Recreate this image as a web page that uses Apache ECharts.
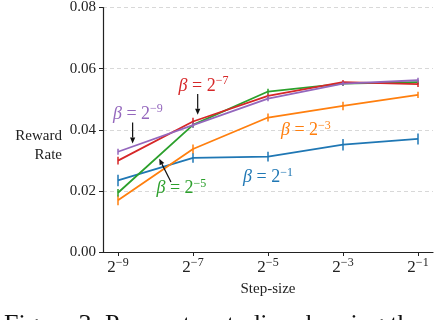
<!DOCTYPE html>
<html><head><meta charset="utf-8">
<script src="https://cdn.jsdelivr.net/npm/echarts@6/dist/echarts.min.js"></script>
<style>html,body{margin:0;padding:0;background:#fff}#c{width:438px;height:320px}</style>
</head><body><div id="c"></div>
<script>
// x positions are log2(step-size)
var stepExp = [-9, -7, -5, -3, -1];
var xTickLabels = ['−9', '−7', '−5', '−3', '−1'];
var yTicks = [0, 0.02, 0.04, 0.06, 0.08];
var seriesNames = ['β = 2^-1', 'β = 2^-3', 'β = 2^-5', 'β = 2^-7', 'β = 2^-9'];
var betaExp = ['−1', '−3', '−5', '−7', '−9'];
var blueVals   = [0.0234, 0.0308, 0.0312, 0.0351, 0.0370];
var orangeVals = [0.0169, 0.0337, 0.0440, 0.0478, 0.0514];
var greenVals  = [0.0194, 0.0416, 0.0525, 0.0551, 0.0556];
var redVals    = [0.0299, 0.0427, 0.0511, 0.0556, 0.0549];
var purpleVals = [0.0328, 0.0415, 0.0502, 0.0551, 0.0562];
var blueErr   = [0.0019, 0.0016, 0.0016, 0.0019, 0.0018];
var orangeErr = [0.0016, 0.0015, 0.0013, 0.0014, 0.0010];
var greenErr  = [0.0012, 0.0009, 0.0009, 0.0008, 0.0008];
var redErr    = [0.0013, 0.0012, 0.0007, 0.0007, 0.0009];
var purpleErr = [0.0010, 0.0009, 0.0009, 0.0007, 0.0008];
// annotation label anchors (data coords: [log2 step, reward]) and arrows
var labelPos = [[-5.0, 0.0244], [-3.99, 0.0397], [-7.31, 0.0208], [-6.72, 0.0543], [-8.47, 0.0452]];
var arrows = [null, null, [[-7.587, 0.0229], [-7.90, 0.0305]], [[-6.875, 0.0517], [-6.875, 0.0449]], [[-8.61, 0.0424], [-8.61, 0.0355]]];

var colors = ['#1f77b4', '#ff7f0e', '#2ca02c', '#d62728', '#9467bd'];
var allVals = [blueVals, orangeVals, greenVals, redVals, purpleVals];
var allErr = [blueErr, orangeErr, greenErr, redErr, purpleErr];
var FONT = 'Liberation Serif';

var chart = echarts.init(document.getElementById('c'));
var series = [];
allVals.forEach(function (vals, i) {
  series.push({
    type: 'line', name: seriesNames[i], data: stepExp.map(function (x, k) { return [x, vals[k]]; }),
    symbol: 'none', lineStyle: { color: colors[i], width: 1.8 }, color: colors[i], z: 2 + i, animation: false
  });
  series.push({
    type: 'custom', name: seriesNames[i] + ' err', z: 2 + i, animation: false,
    data: stepExp.map(function (x, k) { return [x, vals[k] - allErr[i][k], vals[k] + allErr[i][k]]; }),
    renderItem: function (params, api) {
      var a = api.coord([api.value(0), api.value(1)]);
      var b = api.coord([api.value(0), api.value(2)]);
      return { type: 'line', shape: { x1: a[0], y1: a[1], x2: b[0], y2: b[1] }, style: { stroke: colors[i], lineWidth: 1.5 } };
    }
  });
});

chart.setOption({
  animation: false,
  grid: { left: 103, right: 5, top: 6, bottom: 68 },
  xAxis: {
    type: 'value', min: -9.4, max: -0.6,
    axisLine: { lineStyle: { color: '#222', width: 1.2 } },
    axisTick: { customValues: stepExp, length: 4, lineStyle: { color: '#222' } },
    splitLine: { show: false },
    axisLabel: {
      customValues: stepExp, margin: 5,
      formatter: function (v) { return '{b|2}{s|' + xTickLabels[stepExp.indexOf(v)] + '}'; },
      rich: {
        b: { fontFamily: FONT, fontSize: 17, color: '#222' },
        s: { fontFamily: FONT, fontSize: 12, color: '#222', padding: [0, 0, 10, 0] }
      }
    },
    name: 'Step-size', nameLocation: 'middle', nameGap: 29,
    nameTextStyle: { fontFamily: FONT, fontSize: 15, color: '#222' }
  },
  yAxis: {
    type: 'value', min: 0, max: 0.08, interval: 0.02,
    axisLine: { show: true, lineStyle: { color: '#222', width: 1.2 } },
    axisTick: { show: true, length: 4, lineStyle: { color: '#222' } },
    splitLine: { show: true, lineStyle: { color: '#d8d8d8', type: [4, 3], width: 1 } },
    axisLabel: { margin: 7, fontFamily: FONT, fontSize: 15, color: '#222', formatter: function (v) { return v.toFixed(2); } }
  },
  series: series
});

var graphics = [];
labelPos.forEach(function (p, i) {
  var c = chart.convertToPixel({ gridIndex: 0 }, p);
  graphics.push({
    type: 'text', x: c[0], y: c[1], z: 20,
    style: {
      text: '{i|β}{t| = 2}{s|' + betaExp[i] + '}', align: 'center', verticalAlign: 'middle',
      rich: {
        i: { fontFamily: FONT, fontStyle: 'italic', fontSize: 18, fill: colors[i] },
        t: { fontFamily: FONT, fontSize: 18, fill: colors[i] },
        s: { fontFamily: FONT, fontSize: 12, fill: colors[i], padding: [0, 0, 10, 0] }
      }
    }
  });
  if (arrows[i]) {
    var s = chart.convertToPixel({ gridIndex: 0 }, arrows[i][0]);
    var e = chart.convertToPixel({ gridIndex: 0 }, arrows[i][1]);
    var dx = e[0] - s[0], dy = e[1] - s[1], L = Math.sqrt(dx * dx + dy * dy);
    var ux = dx / L, uy = dy / L, hl = 6, hw = 2.6;
    var bx = e[0] - ux * hl, by = e[1] - uy * hl;
    graphics.push({ type: 'line', z: 20, shape: { x1: s[0], y1: s[1], x2: bx, y2: by }, style: { stroke: '#111', lineWidth: 1.2 } });
    graphics.push({ type: 'polygon', z: 20, shape: { points: [[e[0], e[1]], [bx - uy * hw, by + ux * hw], [bx + uy * hw, by - ux * hw]] }, style: { fill: '#111' } });
  }
});
graphics.push({ type: 'text', z: 20, x: 62, y: 127, style: { text: 'Reward\nRate', align: 'right', verticalAlign: 'top', fontFamily: FONT, fontSize: 15, lineHeight: 19, fill: '#222' } });
graphics.push({ type: 'text', x: 4, y: 312, z: 20, style: { text: 'Figure 3: Parameter studies showing the', fontFamily: FONT, fontSize: 26, fill: '#111' } });
chart.setOption({ graphic: graphics });
</script></body></html>
